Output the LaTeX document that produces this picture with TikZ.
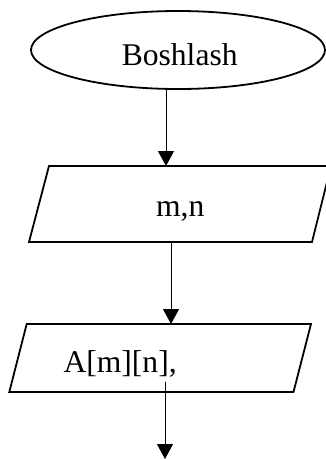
\documentclass[tikz,border=0pt]{standalone}
\usepackage{fontspec}
\setmainfont{Liberation Serif}
\usetikzlibrary{shapes.geometric,arrows.meta}
\begin{document}
\begin{tikzpicture}[x=1pt,y=-1pt,
  shapeline/.style={draw=black,line width=1.8pt,line join=miter},
  term/.style={shapeline,ellipse,minimum width=294pt,minimum height=78pt,inner sep=0pt},
  lbl/.style={inner sep=0pt,font=\fontsize{31.6}{38}\selectfont},
  arr/.style={draw=black,line width=1pt,-{Triangle[length=15pt,width=16pt]}}]
\useasboundingbox (0,0) rectangle (326,459);
\clip (0,0) rectangle (326,459);
% start
\node[term] (start) at (178,50) {};
\node[lbl,anchor=base] (t1) at (179.7,65) {Boshlash};
% input 1
\coordinate (p1tl) at (49,166);
\coordinate (p1tr) at (331,166);
\coordinate (p1br) at (312,242);
\coordinate (p1bl) at (29,242);
\draw[shapeline] (p1tl) -- (p1tr) -- (p1br) -- (p1bl) -- cycle;
\node[lbl,anchor=base] (t2) at (180.3,216.7) {m,n};
% input 2
\coordinate (p2tl) at (26.7,324);
\coordinate (p2tr) at (311,324);
\coordinate (p2br) at (293.5,392);
\coordinate (p2bl) at (9.3,392);
\draw[shapeline] (p2tl) -- (p2tr) -- (p2br) -- (p2bl) -- cycle;
\node[lbl,anchor=base west] (t3) at (63.3,372.7) {A[m][n],};
% connectors
\coordinate (a1s) at (166,89);
\coordinate (a1e) at (166,166);
\coordinate (a2s) at (171,242);
\coordinate (a2e) at (171,324);
\coordinate (a3s) at (165,381.7);
\coordinate (a3e) at (165,459);
\draw[arr] (a1s) -- (a1e);
\draw[arr] (a2s) -- (a2e);
\draw[arr] (a3s) -- (a3e);
\end{tikzpicture}
\end{document}
